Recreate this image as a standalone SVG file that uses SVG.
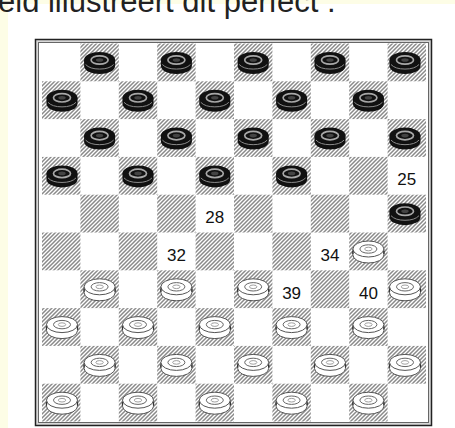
<svg xmlns="http://www.w3.org/2000/svg" xmlns:xlink="http://www.w3.org/1999/xlink" width="455" height="428" viewBox="0 0 455 428">
<style>
.lbl{font-family:"Liberation Sans",Arial,sans-serif;font-size:17px;fill:#111;text-anchor:middle}
.top{font-family:"Liberation Sans",Arial,sans-serif;font-size:31px;fill:#222}
.dk{fill:url(#hatch)}
</style>
<defs>
<pattern id="hatch" patternUnits="userSpaceOnUse" width="4" height="4">
<rect width="4" height="4" fill="#fff"/>
<path d="M-1,1 l2,-2 M0,4 l4,-4 M3,5 l2,-2" stroke="#8a8a8a" stroke-width="1.5"/>
</pattern>
<g id="bp">
<path d="M-15.5,-3 v6 a15.5,8 0 0 0 31,0 v-6 z" fill="#111"/>
<ellipse cx="0" cy="-3" rx="15.5" ry="8" fill="#111"/>
<path d="M-14,1.5 a15.5,8 0 0 0 28,0" fill="none" stroke="#8a8a8a" stroke-width="1"/>
<ellipse cx="0" cy="-3" rx="8.5" ry="4.2" fill="none" stroke="#a8a8a8" stroke-width="1.7"/>
<ellipse cx="0" cy="-3" rx="3.7" ry="1.8" fill="#444"/>
</g>
<g id="wp">
<path d="M-15.5,-3 v6 a15.5,8 0 0 0 31,0 v-6 z" fill="#fff" stroke="#555" stroke-width="1"/>
<ellipse cx="0" cy="-3" rx="15.5" ry="8" fill="#fff" stroke="#555" stroke-width="1"/>
<ellipse cx="0" cy="-3" rx="8.5" ry="4.2" fill="none" stroke="#666" stroke-width="1"/>
<ellipse cx="0" cy="-3" rx="3.7" ry="1.8" fill="none" stroke="#888" stroke-width="0.8"/>
<path d="M-15.5,-1 v3 M15.5,-1 v3" stroke="#333" stroke-width="1.3"/>
</g>
</defs>
<rect width="455" height="428" fill="#fff"/>
<rect width="455" height="4" fill="#fdfde6"/>
<rect width="8" height="428" fill="#fdfde6"/>
<text class="top" x="-2" y="12">eld illustreert dit perfect :</text>
<g id="board">
<rect x="35.5" y="39.5" width="396" height="386" fill="#d8d8d8" stroke="#222" stroke-width="1.5"/>
<rect x="38.5" y="42.5" width="390" height="380" fill="#fff" stroke="#666" stroke-width="1"/>
<g class="dk">
<rect x="80.4" y="43.5" width="38.4" height="37.8"/><rect x="157.2" y="43.5" width="38.4" height="37.8"/><rect x="234" y="43.5" width="38.4" height="37.8"/><rect x="310.8" y="43.5" width="38.4" height="37.8"/><rect x="387.6" y="43.5" width="38.4" height="37.8"/>
<rect x="42" y="81.3" width="38.4" height="37.8"/><rect x="118.8" y="81.3" width="38.4" height="37.8"/><rect x="195.6" y="81.3" width="38.4" height="37.8"/><rect x="272.4" y="81.3" width="38.4" height="37.8"/><rect x="349.2" y="81.3" width="38.4" height="37.8"/>
<rect x="80.4" y="119.1" width="38.4" height="37.8"/><rect x="157.2" y="119.1" width="38.4" height="37.8"/><rect x="234" y="119.1" width="38.4" height="37.8"/><rect x="310.8" y="119.1" width="38.4" height="37.8"/><rect x="387.6" y="119.1" width="38.4" height="37.8"/>
<rect x="42" y="156.9" width="38.4" height="37.8"/><rect x="118.8" y="156.9" width="38.4" height="37.8"/><rect x="195.6" y="156.9" width="38.4" height="37.8"/><rect x="272.4" y="156.9" width="38.4" height="37.8"/><rect x="349.2" y="156.9" width="38.4" height="37.8"/>
<rect x="80.4" y="194.7" width="38.4" height="37.8"/><rect x="157.2" y="194.7" width="38.4" height="37.8"/><rect x="234" y="194.7" width="38.4" height="37.8"/><rect x="310.8" y="194.7" width="38.4" height="37.8"/><rect x="387.6" y="194.7" width="38.4" height="37.8"/>
<rect x="42" y="232.5" width="38.4" height="37.8"/><rect x="118.8" y="232.5" width="38.4" height="37.8"/><rect x="195.6" y="232.5" width="38.4" height="37.8"/><rect x="272.4" y="232.5" width="38.4" height="37.8"/><rect x="349.2" y="232.5" width="38.4" height="37.8"/>
<rect x="80.4" y="270.3" width="38.4" height="37.8"/><rect x="157.2" y="270.3" width="38.4" height="37.8"/><rect x="234" y="270.3" width="38.4" height="37.8"/><rect x="310.8" y="270.3" width="38.4" height="37.8"/><rect x="387.6" y="270.3" width="38.4" height="37.8"/>
<rect x="42" y="308.1" width="38.4" height="37.8"/><rect x="118.8" y="308.1" width="38.4" height="37.8"/><rect x="195.6" y="308.1" width="38.4" height="37.8"/><rect x="272.4" y="308.1" width="38.4" height="37.8"/><rect x="349.2" y="308.1" width="38.4" height="37.8"/>
<rect x="80.4" y="345.9" width="38.4" height="37.8"/><rect x="157.2" y="345.9" width="38.4" height="37.8"/><rect x="234" y="345.9" width="38.4" height="37.8"/><rect x="310.8" y="345.9" width="38.4" height="37.8"/><rect x="387.6" y="345.9" width="38.4" height="37.8"/>
<rect x="42" y="383.7" width="38.4" height="37.8"/><rect x="118.8" y="383.7" width="38.4" height="37.8"/><rect x="195.6" y="383.7" width="38.4" height="37.8"/><rect x="272.4" y="383.7" width="38.4" height="37.8"/><rect x="349.2" y="383.7" width="38.4" height="37.8"/>
</g>
</g>
<g id="black-pieces">
<use href="#bp" x="99.6" y="63"/><use href="#bp" x="176.4" y="63"/><use href="#bp" x="253.2" y="63"/><use href="#bp" x="330" y="63"/><use href="#bp" x="405" y="63"/>
<use href="#bp" x="62" y="100.8"/><use href="#bp" x="138" y="100.8"/><use href="#bp" x="214.8" y="100.8"/><use href="#bp" x="291.6" y="100.8"/><use href="#bp" x="368.4" y="100.8"/>
<use href="#bp" x="99.6" y="138.6"/><use href="#bp" x="176.4" y="138.6"/><use href="#bp" x="253.2" y="138.6"/><use href="#bp" x="330" y="138.6"/><use href="#bp" x="405" y="138.6"/>
<use href="#bp" x="62" y="176.4"/><use href="#bp" x="138" y="176.4"/><use href="#bp" x="214.8" y="176.4"/><use href="#bp" x="291.6" y="176.4"/>
<use href="#bp" x="405" y="214.2"/>
</g>
<g id="white-pieces">
<use href="#wp" x="368.4" y="252"/>
<use href="#wp" x="99.6" y="289.8"/><use href="#wp" x="176.4" y="289.8"/><use href="#wp" x="253.2" y="289.8"/><use href="#wp" x="405" y="289.8"/>
<use href="#wp" x="62" y="327.6"/><use href="#wp" x="138" y="327.6"/><use href="#wp" x="214.8" y="327.6"/><use href="#wp" x="291.6" y="327.6"/><use href="#wp" x="368.4" y="327.6"/>
<use href="#wp" x="99.6" y="365.4"/><use href="#wp" x="176.4" y="365.4"/><use href="#wp" x="253.2" y="365.4"/><use href="#wp" x="330" y="365.4"/><use href="#wp" x="405" y="365.4"/>
<use href="#wp" x="62" y="403.2"/><use href="#wp" x="138" y="403.2"/><use href="#wp" x="214.8" y="403.2"/><use href="#wp" x="291.6" y="403.2"/><use href="#wp" x="368.4" y="403.2"/>
</g>
<g id="labels">
<text class="lbl" x="406.8" y="185">25</text>
<text class="lbl" x="214.8" y="223">28</text>
<text class="lbl" x="176.4" y="261">32</text>
<text class="lbl" x="330" y="261">34</text>
<text class="lbl" x="291.6" y="299">39</text>
<text class="lbl" x="368.4" y="299">40</text>
</g>
</svg>
